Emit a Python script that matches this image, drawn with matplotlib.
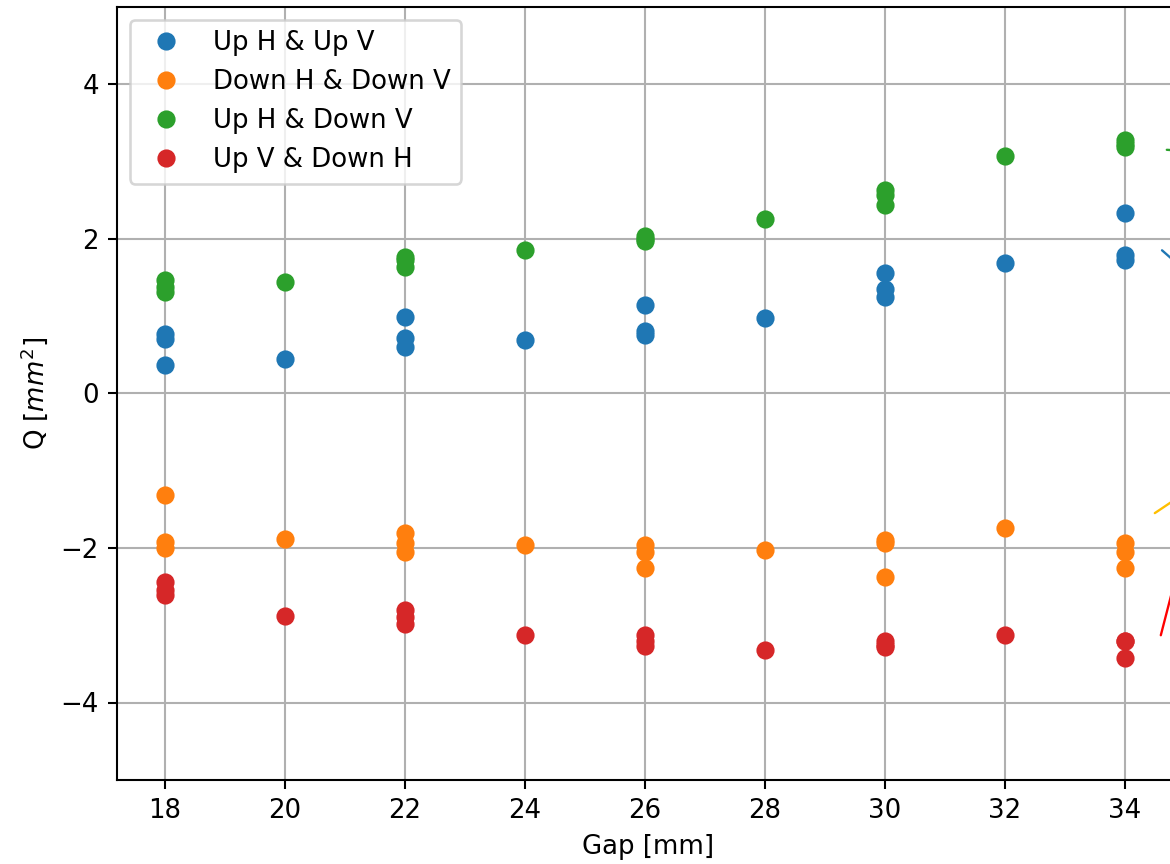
import numpy as np
import matplotlib.pyplot as plt

gaps = [18, 18, 18, 20, 22, 22, 22, 24, 26, 26, 26, 28, 30, 30, 30, 32, 34, 34, 34]

up_h_up_v = [0.77, 0.70, 0.37, 0.44, 0.99, 0.71, 0.60, 0.69, 1.14, 0.81, 0.75,
             0.97, 1.55, 1.35, 1.24, 1.68, 2.33, 1.79, 1.72]
down_h_down_v = [-1.32, -1.92, -2.00, -1.89, -1.81, -1.94, -2.05, -1.96, -1.96, -2.05, -2.26,
                 -2.03, -1.90, -1.94, -2.38, -1.74, -1.94, -2.05, -2.26]
up_h_down_v = [1.46, 1.38, 1.31, 1.44, 1.76, 1.72, 1.63, 1.86, 2.04, 2.00, 1.97,
               2.26, 2.63, 2.57, 2.43, 3.07, 3.28, 3.23, 3.19]
up_v_down_h = [-2.44, -2.55, -2.61, -2.88, -2.80, -2.89, -2.98, -3.13, -3.13, -3.20, -3.27,
               -3.32, -3.20, -3.25, -3.28, -3.13, -3.20, -3.21, -3.43]

labels = ["Up H & Up V", "Down H & Down V", "Up H & Down V", "Up V & Down H"]

# arrows leading off to labels outside the visible area
arrow_from = [(34.70, 3.15), (34.62, 1.85), (34.50, -1.55), (34.60, -3.13)]
arrow_to = [(35.30, 3.12), (35.25, 1.42), (35.25, -1.16), (34.92, -2.17)]
arrow_colors = ["#2ca02c", "#1f77b4", "#ffbf00", "red"]

dpi = 187
fig = plt.figure(figsize=(1170 / dpi, 864 / dpi), dpi=dpi)
ax = fig.add_axes([117 / 1170, 1 - 779.8 / 864, (1180 - 117) / 1170, 773 / 864])

for vals, lab in zip([up_h_up_v, down_h_down_v, up_h_down_v, up_v_down_h], labels):
    ax.plot(gaps, vals, 'o', label=lab)

for p0, p1, c in zip(arrow_from, arrow_to, arrow_colors):
    ax.annotate("", xy=p0, xytext=p1,
                arrowprops=dict(arrowstyle='-', color=c, lw=0.9, shrinkA=0, shrinkB=0),
                annotation_clip=False)

ax.set_xlim(17.2, 34.92)
ax.set_ylim(-5, 5)
ax.set_xticks(np.arange(18, 35, 2))
ax.grid(True)
ax.set_xlabel("Gap [mm]")
ax.set_ylabel("Q [$mm^2$]")
ax.legend(loc="upper left")

fig.savefig("out.png", dpi=dpi)
